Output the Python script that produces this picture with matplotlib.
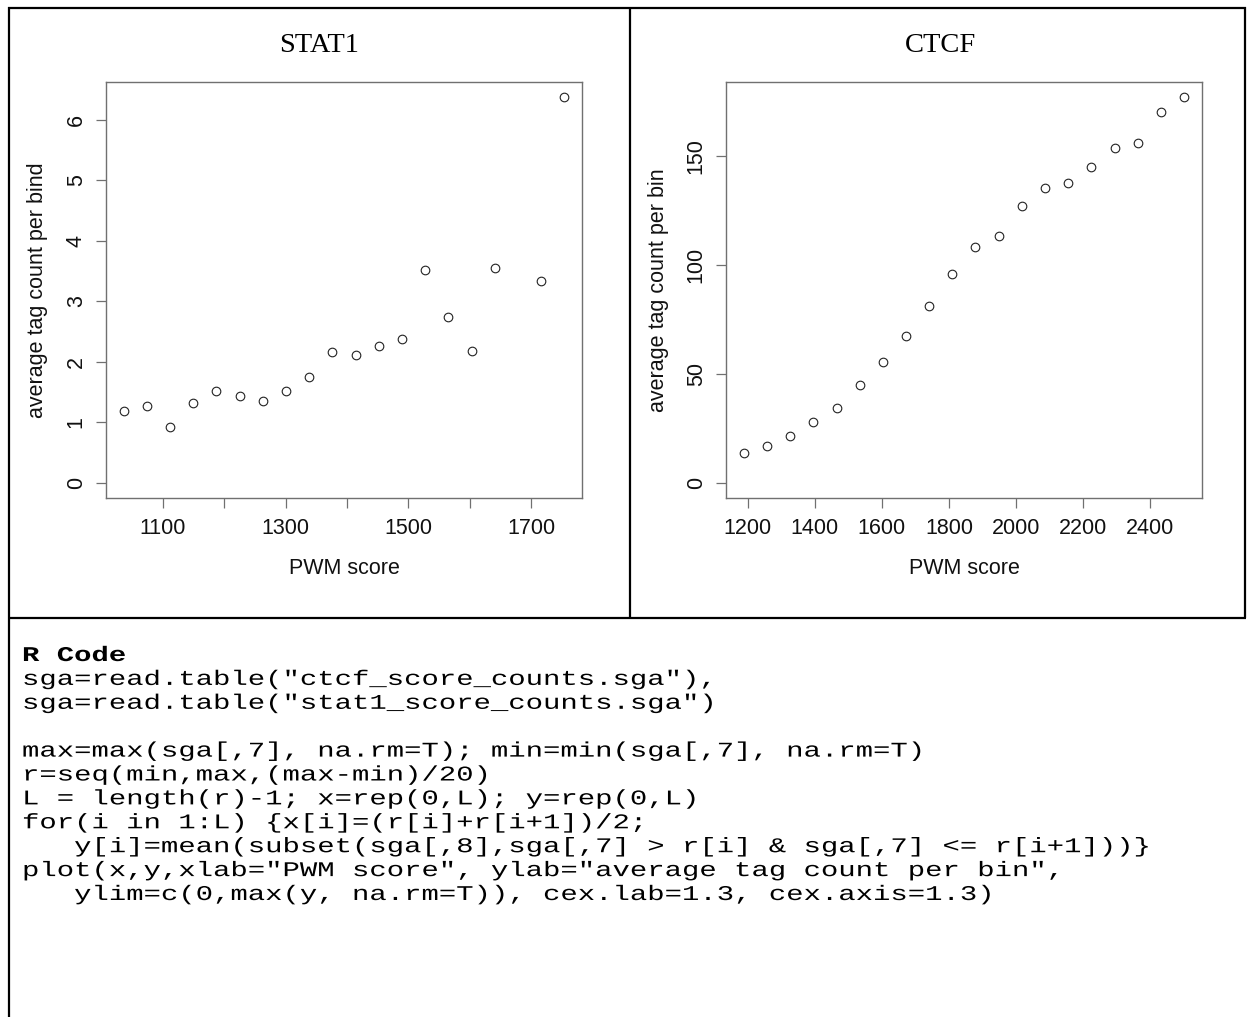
import matplotlib
matplotlib.use("Agg")
import matplotlib.pyplot as plt
from matplotlib.lines import Line2D
from matplotlib.patheffects import AbstractPathEffect
from matplotlib.transforms import Affine2D

# ---------------- data ----------------
stat1_x = [1036, 1074, 1112, 1149, 1187, 1225, 1263, 1300, 1338, 1376,
           1414, 1452, 1490, 1527, 1565, 1603, 1641, 1716, 1754]
stat1_y = [1.18, 1.27, 0.92, 1.32, 1.52, 1.44, 1.35, 1.52, 1.75, 2.16,
           2.11, 2.26, 2.38, 3.51, 2.74, 2.17, 3.55, 3.34, 6.37]

ctcf_x = [1188, 1257, 1327, 1396, 1465, 1534, 1603, 1672, 1741, 1809,
          1878, 1948, 2017, 2086, 2155, 2224, 2293, 2363, 2432, 2501]
ctcf_y = [13.6, 16.7, 21.5, 28.0, 34.5, 45.1, 55.3, 67.5, 81.3, 95.8,
          108.4, 113.5, 127.1, 135.6, 137.8, 145.1, 154.0, 156.2, 170.4, 177.1]

stat1_xticks = [1100, 1200, 1300, 1400, 1500, 1600, 1700]
stat1_xticklabels = ["1100", "", "1300", "", "1500", "", "1700"]
stat1_yticks = [0, 1, 2, 3, 4, 5, 6]
ctcf_xticks = [1200, 1400, 1600, 1800, 2000, 2200, 2400]
ctcf_yticks = [0, 50, 100, 150]

titles = ["STAT1", "CTCF"]
xlabel = "PWM score"
ylabels = ["average tag count per bind", "average tag count per bin"]

code_title = "R Code"
code_lines = [
    'sga=read.table("ctcf_score_counts.sga"),',
    'sga=read.table("stat1_score_counts.sga")',
    '',
    'max=max(sga[,7], na.rm=T); min=min(sga[,7], na.rm=T)',
    'r=seq(min,max,(max-min)/20)',
    'L = length(r)-1; x=rep(0,L); y=rep(0,L)',
    'for(i in 1:L) {x[i]=(r[i]+r[i+1])/2;',
    '   y[i]=mean(subset(sga[,8],sga[,7] > r[i] & sga[,7] <= r[i+1]))}',
    'plot(x,y,xlab="PWM score", ylab="average tag count per bin",',
    '   ylim=c(0,max(y, na.rm=T)), cex.lab=1.3, cex.axis=1.3)',
]


class HStretch(AbstractPathEffect):
    """Draw text glyphs stretched horizontally about the text anchor."""

    def __init__(self, sx):
        super().__init__()
        self.sx = sx

    def draw_path(self, renderer, gc, tpath, affine, rgbFace=None):
        x0 = affine.get_matrix()[0, 2]
        aff = affine + Affine2D().translate(-x0, 0).scale(self.sx, 1.0).translate(x0, 0)
        renderer.draw_path(gc, tpath, aff, rgbFace)


# ---------------- layout ----------------
W, H = 1247, 1017
fig = plt.figure(figsize=(W / 100, H / 100), dpi=100)
fig.patch.set_facecolor("white")


def rect(l, t, r, b):
    return [l / W, 1 - b / H, (r - l) / W, (b - t) / H]


def fx(px):
    return px / W


def fy(py):
    return 1 - py / H


SANS = ["Liberation Sans", "DejaVu Sans"]
SERIF = ["Liberation Serif", "DejaVu Serif"]
MONO = ["Liberation Mono", "DejaVu Sans Mono"]
AXC = "#707070"


def r_lim(v):
    lo, hi = min(v), max(v)
    d = (hi - lo) * 0.04
    return lo - d, hi + d


panels = [
    dict(box=(106, 82, 582, 498), x=stat1_x, y=stat1_y, xt=stat1_xticks,
         xtl=stat1_xticklabels, yt=stat1_yticks, title=titles[0],
         tcx=319.5, ylab=ylabels[0], ylx=48.5),
    dict(box=(726, 82, 1202, 498), x=ctcf_x, y=ctcf_y, xt=ctcf_xticks,
         xtl=[str(t) for t in ctcf_xticks], yt=ctcf_yticks, title=titles[1],
         tcx=940, ylab=ylabels[1], ylx=669.0),
]

for p in panels:
    l, t, r, b = p["box"]
    ax = fig.add_axes(rect(l, t, r, b))
    ax.plot(p["x"], p["y"], linestyle="none", marker="o", markersize=6.2,
            markerfacecolor="none", markeredgecolor="#222222",
            markeredgewidth=0.8)
    ax.set_xlim(*r_lim(p["x"]))
    ax.set_ylim(*r_lim([0] + list(p["y"])))
    ax.set_xticks(p["xt"])
    ax.set_xticklabels(p["xtl"])
    ax.set_yticks(p["yt"])
    ax.set_yticklabels([str(v) for v in p["yt"]])
    for s in ax.spines.values():
        s.set_color(AXC)
        s.set_linewidth(1.0)
    ax.tick_params(axis="both", direction="out", length=7.2, width=0.9,
                   color=AXC, labelsize=15.5, labelcolor="#111111")
    ax.tick_params(axis="x", pad=7)
    ax.tick_params(axis="y", pad=6.6, labelrotation=90)
    for lab in ax.get_xticklabels() + ax.get_yticklabels():
        lab.set_family(SANS)
    for lab in ax.get_yticklabels():
        lab.set_verticalalignment("center")
    ax.set_xlabel(xlabel, fontsize=15.5, family=SANS, color="#111111")
    ax.xaxis.set_label_coords(fx((l + r) / 2), fy(558.5),
                              transform=fig.transFigure)
    ax.set_ylabel(p["ylab"], fontsize=15.5, family=SANS, color="#111111")
    ax.yaxis.set_label_coords(fx(p["ylx"]), fy((t + b) / 2),
                              transform=fig.transFigure)
    fig.text(fx(p["tcx"]), fy(52.5), p["title"], ha="center",
             va="baseline", family=SERIF, fontsize=20.5, color="black")

# ---------------- table borders ----------------
LW = 1.6


def hline(y, x0, x1):
    fig.add_artist(Line2D([fx(x0), fx(x1)], [fy(y), fy(y)],
                          transform=fig.transFigure, color="black", lw=LW,
                          solid_capstyle="butt"))


def vline(x, y0, y1):
    fig.add_artist(Line2D([fx(x), fx(x)], [fy(y0), fy(y1)],
                          transform=fig.transFigure, color="black", lw=LW,
                          solid_capstyle="butt"))


hline(8, 8, 1246)
hline(618, 8, 1246)
vline(9, 7, 1017)
vline(630, 7, 618)
vline(1245, 7, 618)

# ---------------- code block ----------------
x0 = 22
base0 = 661
step = 23.9
CODE_FS = 15.1
stretch = [HStretch(1.38)]
fig.text(fx(x0), fy(base0), code_title, ha="left", va="baseline",
         family=MONO, fontsize=CODE_FS, fontweight="bold", color="black",
         path_effects=stretch)
for i, line in enumerate(code_lines, start=1):
    if line:
        fig.text(fx(x0), fy(base0 + step * i), line, ha="left",
                 va="baseline", family=MONO, fontsize=CODE_FS,
                 color="black", path_effects=stretch)

fig.savefig("out.png", dpi=100, facecolor="white")
